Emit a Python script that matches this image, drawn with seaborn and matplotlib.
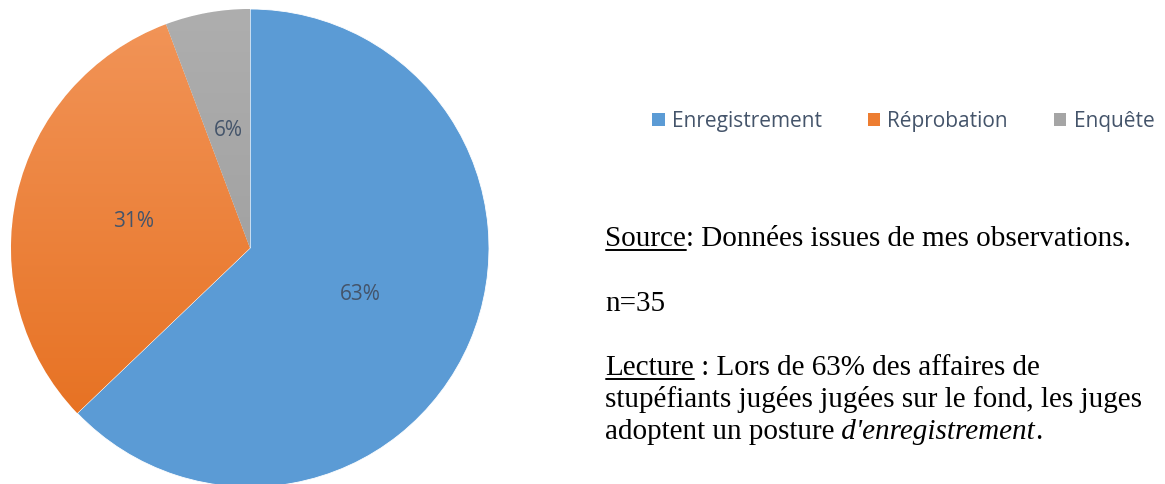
import matplotlib
matplotlib.use("Agg")
import matplotlib.pyplot as plt
import seaborn as sns
import numpy as np
from matplotlib.patches import Patch
from matplotlib.lines import Line2D
from matplotlib.colors import LinearSegmentedColormap

# data
categories = ["Enregistrement", "Réprobation", "Enquête"]
counts = [22, 11, 2]   # n = 35
n_total = 35

colors = ["#5B9BD5", "#ED7D31", "#A5A5A5"]
# (top, bottom) of the vertical shading in each slice
shades = [("#5B9BD5", "#5B9BD5"), ("#F29559", "#E56C1A"), ("#AEAEAE", "#979797")]
label_color = "#44546A"

sns.set_theme(style="white")
plt.rcParams["font.family"] = ["Open Sans", "DejaVu Sans"]

W, H = 1165, 484
fig = plt.figure(figsize=(W / 100, H / 100), dpi=100)
fig.patch.set_facecolor("white")

# pie
ax = fig.add_axes([11 / W, -3 / H, 478 / W, 478 / H])
wedges, texts, autotexts = ax.pie(
    counts, colors=colors, startangle=90, counterclock=False,
    autopct="%.0f%%", pctdistance=0.5, radius=1,
    wedgeprops=dict(linewidth=0.6, edgecolor="white"),
    textprops=dict(color=label_color, fontsize=15))

grad = np.linspace(1, 0, 256).reshape(-1, 1)
for wedge, (top, bot) in zip(wedges, shades):
    if top == bot:
        continue
    cmap = LinearSegmentedColormap.from_list("shade", [bot, top])
    im = ax.imshow(grad, cmap=cmap, extent=(-1, 1, -1, 1), origin="upper",
                   aspect="auto", zorder=wedge.get_zorder() + 0.1)
    im.set_clip_path(wedge)
for t in autotexts:
    t.set_zorder(10)
ax.set_xlim(-1, 1)
ax.set_ylim(-1, 1)
ax.set_aspect("equal")
ax.axis("off")

# legend
handles = [Patch(facecolor=c, edgecolor="none") for c in colors]
fig.legend(handles, categories, ncol=3, loc="center left",
           bbox_to_anchor=(652 / W, 1 - 121 / H), frameon=False,
           fontsize=15, labelcolor=label_color,
           handlelength=0.6, handleheight=0.6, handletextpad=0.35,
           columnspacing=2.2, borderpad=0, borderaxespad=0)

# notes on the right
renderer = fig.canvas.get_renderer()
serif = "Liberation Serif"
fs = 21


def put_runs(x_px, base_px, runs):
    x = x_px
    y = 1 - base_px / H
    for text, style, under in runs:
        t = fig.text(x / W, y, text, fontsize=fs, family=serif, style=style,
                     color="black", ha="left", va="baseline")
        bb = t.get_window_extent(renderer)
        if under:
            fig.add_artist(Line2D([(bb.x0 + 1) / W, bb.x1 / W],
                                  [y - 3.5 / H, y - 3.5 / H],
                                  color="black", lw=1.4))
        x = bb.x1


put_runs(605, 246, [("Source", "normal", True),
                    (": Données issues de mes observations.", "normal", False)])
put_runs(605, 311, [("n=%d" % n_total, "normal", False)])
put_runs(605, 375, [("Lecture", "normal", True),
                    (" : Lors de 63% des affaires de", "normal", False)])
put_runs(605, 407, [("stupéfiants jugées jugées sur le fond, les juges", "normal", False)])
put_runs(605, 439, [("adoptent un posture", "normal", False),
                    (" d'enregistrement", "italic", False),
                    (".", "normal", False)])

fig.savefig("out.png", dpi=100, facecolor="white")
